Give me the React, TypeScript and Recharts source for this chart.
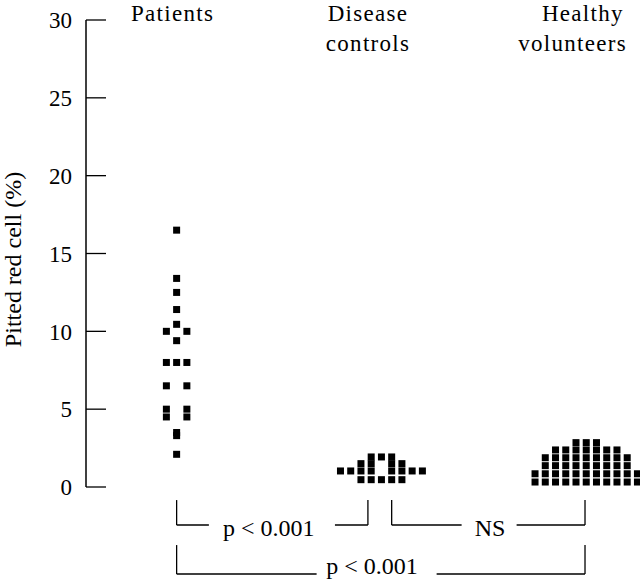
import { ReferenceDot, ReferenceLine, Scatter, ScatterChart, XAxis, YAxis } from 'recharts';

const FONT = 'Liberation Serif, Times New Roman, Times, serif';
const INK = '#000';

// group labels and their centre on the x scale (one unit = one dot column)
const groupLabels = [['Patients'], ['Disease', 'controls'], ['Healthy', 'volunteers']];
const groupCenters = [0, 20, 40];
const yTicks = [0, 5, 10, 15, 20, 25, 30];

// patients: [column offset, pitted red cell %]
const patients = [
  [0, 16.5], [0, 13.4], [0, 12.5], [0, 11.4], [0, 10.45],
  [-1, 10], [1, 10], [0, 9.4],
  [-1, 8], [0, 8], [1, 8],
  [-1, 6.5], [1, 6.5],
  [-1, 5], [1, 5],
  [-1, 4.5], [1, 4.5],
  [0, 3.5], [0, 3.3], [0, 2.1],
];

// disease controls, row by row
const diseaseRows = [
  { value: 1.93, cols: [-1, 0, 1] },
  { value: 1.5, cols: [-2, -1, 1, 2] },
  { value: 1.03, cols: [-4, -3, -2, -1, 1, 2, 3, 4] },
  { value: 0.47, cols: [-2, -1, 0, 1, 2] },
];

// healthy volunteers, row by row
const healthyRows = [
  { value: 2.85, cols: [-1, 0, 1] },
  { value: 2.38, cols: [-3, -2, -1, 0, 1, 2, 3] },
  { value: 1.88, cols: [-4, -3, -2, -1, 0, 1, 2, 3, 4] },
  { value: 1.37, cols: [-4, -3, -2, -1, 0, 1, 2, 3, 4] },
  { value: 0.85, cols: [-5, -4, -3, -2, -1, 0, 1, 2, 3, 4, 5] },
  { value: 0.32, cols: [-5, -4, -3, -2, -1, 0, 1, 2, 3, 4, 5] },
];

// significance brackets below the axis: [x1, y1, x2, y2]
const bracketSegments = [
  [0, -0.84, 0, -2.44], [0, -2.44, 3.15, -2.44], [15.46, -2.44, 18.68, -2.44], [18.68, -0.84, 18.68, -2.44],
  [21, -0.84, 21, -2.44], [21, -2.44, 27.83, -2.44], [33.2, -2.44, 39.88, -2.44], [39.88, -0.84, 39.88, -2.44],
  [0, -3.73, 0, -5.59], [0, -5.59, 13.67, -5.59], [25.39, -5.59, 39.88, -5.59], [39.88, -3.73, 39.88, -5.59],
];
const bracketLabels = [
  { x: 9, y: -3.13, text: 'p < 0.001' },
  { x: 30.6, y: -3.13, text: 'NS' },
  { x: 19.07, y: -5.56, text: 'p < 0.001' },
];

const fromPairs = (center: number, pairs: number[][]) =>
  pairs.map(([c, v]) => ({ x: center + c, y: v }));
const fromRows = (center: number, rows: { value: number; cols: number[] }[]) =>
  rows.flatMap((r) => r.cols.map((c) => ({ x: center + c, y: r.value })));

const patientData = fromPairs(groupCenters[0], patients);
const diseaseData = fromRows(groupCenters[1], diseaseRows);
const healthyData = fromRows(groupCenters[2], healthyRows);

const Square = (props: any) => {
  const { cx, cy } = props;
  return <rect x={cx - 3.5} y={cy - 3.5} width={7} height={7} fill="#000" />;
};

const YTick = (props: any) => {
  const { x, y, payload } = props;
  return (
    <g>
      <line x1={x} x2={x + 20} y1={y} y2={y} stroke={INK} strokeWidth={1.3} />
      <text x={x - 14} y={y} dy="0.36em" textAnchor="end" fontSize={23} fontFamily={FONT} fill={INK}>
        {payload.value}
      </text>
    </g>
  );
};

// small nudges so the labels sit where the original put them
const labelShift = [
  [-4],
  [-13.4, -13.4],
  [-3.4, -13.7],
];

const GroupLabel = (index: number) => (props: any) => {
  const { viewBox } = props;
  const cx = viewBox.x + viewBox.width / 2;
  const cy = viewBox.y + viewBox.height / 2;
  return (
    <g>
      {groupLabels[index].map((line, i) => (
        <text
          key={line}
          x={cx + labelShift[index][i]}
          y={cy + 1 + i * 29.5}
          textAnchor="middle"
          fontSize={23}
          letterSpacing={1.3}
          fontFamily={FONT}
          fill={INK}
        >
          {line}
        </text>
      ))}
    </g>
  );
};

const BracketLabel = (text: string) => (props: any) => {
  const { viewBox } = props;
  const cx = viewBox.x + viewBox.width / 2;
  const cy = viewBox.y + viewBox.height / 2;
  return (
    <text x={cx} y={cy} textAnchor="middle" fontSize={24} fontFamily={FONT} fill={INK}>
      {text}
    </text>
  );
};

export default function App() {
  return (
    <div style={{ position: 'absolute', left: 0, top: 0, width: 640, height: 579, background: '#fff' }}>
      <ScatterChart width={640} height={579} margin={{ top: 20, right: 0, bottom: 92, left: 0 }}>
        <XAxis type="number" dataKey="x" domain={[-8.85, 45.25]} allowDataOverflow hide />
        <YAxis
          type="number"
          dataKey="y"
          domain={[0, 30]}
          ticks={yTicks}
          width={86}
          tickSize={0}
          tickMargin={0}
          tickLine={false}
          axisLine={{ stroke: INK, strokeWidth: 1.5 }}
          tick={<YTick />}
          interval={0}
          label={{
            content: (p: any) => {
              const vb = p.viewBox;
              const cx = vb.x + 21;
              const cy = vb.y + vb.height / 2 + 6;
              return (
                <text
                  x={cx}
                  y={cy}
                  transform={`rotate(-90, ${cx}, ${cy})`}
                  textAnchor="middle"
                  fontSize={24}
                  fontFamily={FONT}
                  fill={INK}
                >
                  Pitted red cell (%)
                </text>
              );
            },
          }}
        />
        <Scatter data={patientData} shape={Square} isAnimationActive={false} />
        <Scatter data={diseaseData} shape={Square} isAnimationActive={false} />
        <Scatter data={healthyData} shape={Square} isAnimationActive={false} />
        {bracketSegments.map(([x1, y1, x2, y2], i) => (
          <ReferenceLine
            key={`seg-${i}`}
            segment={[{ x: x1, y: y1 }, { x: x2, y: y2 }]}
            stroke={INK}
            strokeWidth={1.3}
            ifOverflow="visible"
          />
        ))}
        {bracketLabels.map((l, i) => (
          <ReferenceDot
            key={`lab-${i}`}
            x={l.x}
            y={l.y}
            r={0.5}
            fill="none"
            stroke="none"
            ifOverflow="visible"
            label={{ content: BracketLabel(l.text) }}
          />
        ))}
        {groupCenters.map((c, i) => (
          <ReferenceDot
            key={`grp-${i}`}
            x={c}
            y={30}
            r={0.5}
            fill="none"
            stroke="none"
            ifOverflow="visible"
            label={{ content: GroupLabel(i) }}
          />
        ))}
      </ScatterChart>
    </div>
  );
}
